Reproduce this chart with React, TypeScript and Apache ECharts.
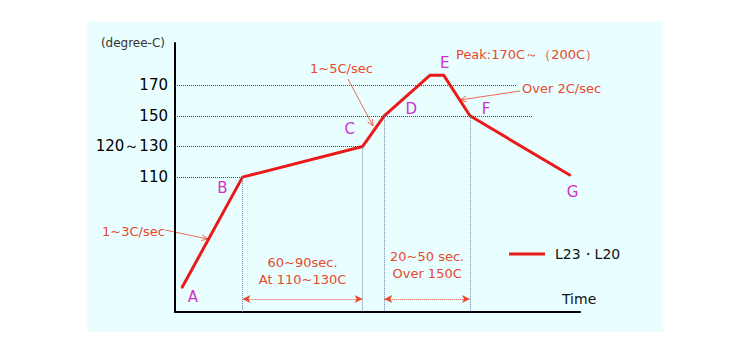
import React, { useEffect, useRef } from 'react';
import * as echarts from 'echarts';

// ---- data ----
const seriesName = 'L23・L20';
const times = [5, 50, 139, 155, 189, 199, 218.5, 293];
const temps = [37.6, 110, 130, 150, 176.5, 176.5, 150, 111];
const pointLetters = ['A', 'B', 'C', 'D', '', 'E', 'F', 'G'];
const tempTicks = [110, 130, 150, 170];
const tempTickLabels = ['110', '120～130', '150', '170'];
const durationLabels = ['60~90sec.\nAt 110~130C', '20~50 sec.\nOver 150C'];
const durationSpans = [[1, 2], [3, 6]]; // indices into times
const verticalGuides = [1, 2, 3, 6];
const yMin = 22;
const yMax = 197.5;
const xMin = 0;
const xMax = 300;

// ---- layout / style ----
const FONT = '"DejaVu Sans", Verdana, sans-serif';
const RED = '#ea1a1a';
const NOTE = '#e8482c';
const MAG = '#cc33cc';
const letterOffsets = [[11, 9], [-20, 11], [-13, -17], [27, -7], [0, 0], [1, -12], [16, -7], [2, 16]];
const hLineEnds: Record<number, number> = { 170: 253.3, 150: 264.4, 130: times[2], 110: times[1] };
const durationY = 30.4;

function arrow(x1: number, y1: number, x2: number, y2: number) {
  const ang = Math.atan2(y2 - y1, x2 - x1);
  const L = 7, a = 0.42;
  const p1 = [x2 - L * Math.cos(ang - a), y2 - L * Math.sin(ang - a)];
  const p2 = [x2 - L * Math.cos(ang + a), y2 - L * Math.sin(ang + a)];
  return [
    { type: 'line', silent: true, shape: { x1, y1, x2, y2 }, style: { stroke: '#ee6a55', lineWidth: 1 } },
    { type: 'polyline', silent: true, shape: { points: [p1, [x2, y2], p2] }, style: { stroke: '#ee6a55', fill: null, lineWidth: 1 } },
  ];
}

function note(text: string, x: number, y: number, size = 13, color = NOTE, align = 'left') {
  return {
    type: 'text', x, y, silent: true,
    style: { text, fill: color, fontSize: size, fontFamily: FONT, align, verticalAlign: 'middle' },
  };
}

export default function App() {
  const ref = useRef<HTMLDivElement>(null);
  useEffect(() => {
    if (!ref.current) return;
    const chart = echarts.init(ref.current, undefined, { renderer: 'svg' });

    const grey = { color: '#3a4560', type: 'dotted', width: 1 };
    const blueGrey = { color: '#6f82aa', type: 'dotted', width: 1 };

    const markData: any[] = [];
    tempTicks.forEach((t) => {
      markData.push([
        { coord: [xMin, t], lineStyle: grey, symbol: 'none' },
        { coord: [hLineEnds[t], t], symbol: 'none' },
      ]);
    });
    verticalGuides.forEach((i) => {
      markData.push([
        { coord: [times[i], temps[i]], lineStyle: blueGrey, symbol: 'none' },
        { coord: [times[i], yMin], symbol: 'none' },
      ]);
    });
    durationSpans.forEach(([a, b], k) => {
      markData.push([
        {
          coord: [times[a], durationY],
          symbol: 'arrow',
          symbolSize: [6, 8],
          lineStyle: { color: NOTE, type: 'dotted', width: 1 },
          label: {
            show: true,
            position: 'middle',
            formatter: durationLabels[k],
            color: NOTE,
            fontSize: 13,
            fontFamily: FONT,
            lineHeight: 17,
            align: 'center',
            distance: k === 0 ? 11 : 17,
          },
        },
        { coord: [times[b], durationY], symbol: 'arrow', symbolSize: [6, 8] },
      ]);
    });

    chart.setOption({
      animation: false,
      backgroundColor: '#ffffff',
      textStyle: { fontFamily: FONT },
      grid: { left: 175, right: 170, top: 43, bottom: 42 },
      legend: {
        data: [{ name: seriesName, icon: 'rect' }],
        left: 509,
        top: 247,
        padding: 0,
        itemWidth: 36,
        itemHeight: 3,
        textStyle: { fontSize: 14, color: '#111', fontFamily: FONT, padding: [0, 0, 0, 5] },
      },
      xAxis: {
        type: 'value', min: xMin, max: xMax,
        axisLine: { show: true, onZero: false, lineStyle: { color: '#000', width: 2 } },
        axisTick: { show: false }, axisLabel: { show: false }, splitLine: { show: false },
      },
      yAxis: {
        type: 'value', min: yMin, max: yMax,
        axisLine: { show: true, onZero: false, lineStyle: { color: '#000', width: 2 } },
        axisTick: { show: false }, splitLine: { show: false },
        axisLabel: {
          customValues: tempTicks,
          formatter: (v: number) => tempTickLabels[tempTicks.indexOf(v)] ?? '',
          color: '#000', fontSize: 15, margin: 7, fontFamily: FONT,
        },
      },
      graphic: [
        { type: 'rect', z: -10, silent: true, shape: { x: 87, y: 22, width: 576, height: 310 }, style: { fill: '#e9fefe' } },
        note('(degree-C)', 165, 43, 12, '#333', 'right'),
        note('Time', 562, 299, 14, '#111'),
        note('1~5C/sec', 310, 68),
        ...arrow(348, 79, 373, 126),
        note('Peak:170C～（200C）', 456, 54),
        note('Over 2C/sec', 522, 88),
        ...arrow(520, 91, 460, 100),
        note('1~3C/sec', 102, 231),
        ...arrow(165, 230, 208, 239),
      ],
      series: [
        {
          name: seriesName,
          type: 'line',
          data: times.map((t, i) => ({
            value: [t, temps[i]],
            label: { show: pointLetters[i] !== '', formatter: pointLetters[i], offset: letterOffsets[i] },
          })),
          symbol: 'circle',
          symbolSize: 1,
          showSymbol: true,
          itemStyle: { color: RED },
          lineStyle: { color: RED, width: 3 },
          label: { position: 'inside', color: MAG, fontSize: 15, fontFamily: FONT },
          z: 3,
          markLine: {
            silent: true,
            animation: false,
            symbol: ['none', 'none'],
            label: { show: false },
            data: markData,
          },
        },
      ],
    });
    return () => chart.dispose();
  }, []);
  return <div ref={ref} style={{ position: 'absolute', left: 0, top: 0, width: 750, height: 354 }} />;
}
